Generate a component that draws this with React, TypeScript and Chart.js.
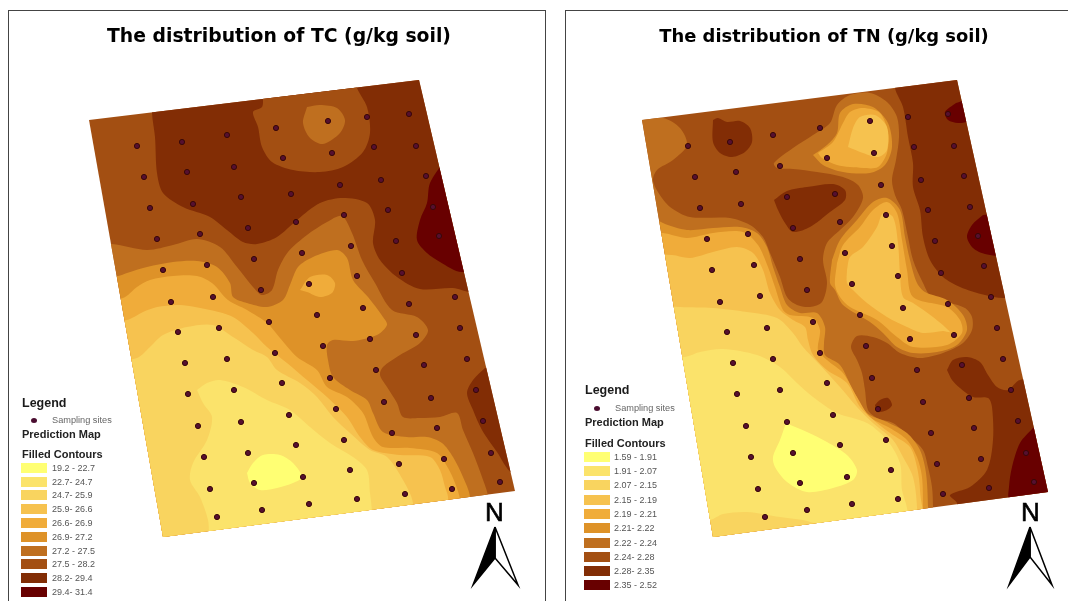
import React, { useEffect, useRef } from "react";
import { Chart, registerables } from "chart.js";

Chart.register(...registerables);

type Pts = number[][];
type Band = [number, Pts];

const FONT = '"Liberation Sans", Arial, sans-serif';
const classColors = ["#FFFF73", "#FBE36B", "#F9D45F", "#F6C24F", "#F0AC3A", "#DE9228", "#BF6F1F", "#A34F12", "#822D05", "#680000"];

const tcLabels = ["19.2 - 22.7", "22.7- 24.7", "24.7- 25.9", "25.9- 26.6", "26.6- 26.9", "26.9- 27.2", "27.2 - 27.5", "27.5 - 28.2", "28.2- 29.4", "29.4- 31.4"];
const tnLabels = ["1.59 - 1.91", "1.91 - 2.07", "2.07 - 2.15", "2.15 - 2.19", "2.19 - 2.21", "2.21- 2.22", "2.22 - 2.24", "2.24- 2.28", "2.28- 2.35", "2.35 - 2.52"];

const tcOutline: Pts = [[89, 120], [419, 80], [515, 491], [163, 537]];
const tnOutline: Pts = [[642, 120], [957, 80], [1048, 492], [713, 537]];

const tcSites: Pts = [[137,146],[182,142],[227,135],[276,128],[328,121],[367,117],[409,114],[144,177],[187,172],[234,167],[283,158],[332,153],[374,147],[416,146],[150,208],[193,204],[241,197],[291,194],[340,185],[381,180],[426,176],[157,239],[200,234],[248,228],[296,222],[344,215],[388,210],[433,207],[163,270],[207,265],[254,259],[302,253],[351,246],[396,241],[439,236],[171,302],[213,297],[261,290],[309,284],[357,276],[402,273],[363,308],[409,304],[455,297],[317,315],[269,322],[219,328],[178,332],[460,328],[416,335],[370,339],[323,346],[275,353],[227,359],[185,363],[467,359],[424,365],[376,370],[330,378],[282,383],[234,390],[188,394],[476,390],[431,398],[384,402],[336,409],[289,415],[241,422],[198,426],[483,421],[437,428],[392,433],[344,440],[296,445],[248,453],[204,457],[491,453],[444,459],[399,464],[350,470],[303,477],[254,483],[210,489],[500,482],[452,489],[405,494],[357,499],[309,504],[262,510],[217,517]];

const tnSites: Pts = [[688,146],[730,142],[773,135],[820,128],[870,121],[908,117],[948,114],[695,177],[736,172],[780,166],[827,158],[874,153],[914,147],[954,146],[700,208],[741,204],[787,197],[835,194],[881,185],[921,180],[964,176],[707,239],[748,234],[793,228],[840,222],[886,215],[928,210],[970,207],[712,270],[754,265],[800,259],[845,253],[892,246],[935,241],[978,236],[720,302],[760,296],[807,290],[852,284],[898,276],[941,273],[984,266],[903,308],[948,304],[991,297],[860,315],[813,322],[767,328],[727,332],[997,328],[954,335],[910,339],[866,346],[820,353],[773,359],[733,363],[1003,359],[962,365],[917,370],[872,378],[827,383],[780,390],[737,394],[1011,390],[969,398],[923,402],[878,409],[833,415],[787,422],[746,426],[1018,421],[974,428],[931,433],[886,440],[840,445],[793,453],[751,457],[1026,453],[981,459],[937,464],[891,470],[847,477],[800,483],[758,489],[1034,482],[989,488],[943,494],[898,499],[852,504],[807,510],[765,517]];

const tcBands: Band[] = [
  [7, [[60, 60], [540, 60], [540, 560], [60, 560]]],
  [8, [[152, 60], [152, 113], [155, 137], [157, 173], [163, 193], [183, 207], [210, 217], [227, 230], [243, 242], [257, 244], [277, 237], [297, 220], [320, 203], [343, 198], [367, 203], [375, 220], [373, 243], [380, 260], [397, 277], [420, 289], [453, 288], [470, 292], [530, 292], [530, 60]]],
  [9, [[445, 160], [430, 183], [427, 203], [420, 220], [417, 240], [427, 253], [440, 262], [462, 272], [500, 260], [490, 160]]],
  [7, [[263, 75], [263, 98], [262, 107], [253, 112], [258, 127], [262, 147], [272, 162], [293, 170], [320, 172], [343, 167], [363, 152], [370, 133], [367, 107], [357, 88], [355, 75]]],
  [6, [[307, 107], [303, 123], [310, 138], [323, 144], [340, 133], [345, 120], [337, 108], [320, 105]]],
  [8, [[485, 368], [473, 380], [467, 393], [473, 410], [482, 430], [497, 452], [512, 473], [540, 480], [530, 360]]],
  [6, [[80, 244], [112, 244], [147, 250], [173, 245], [197, 239], [220, 247], [237, 267], [253, 287], [262, 295], [272, 290], [278, 270], [288, 252], [307, 235], [327, 222], [342, 216], [352, 233], [362, 260], [375, 283], [392, 310], [417, 317], [428, 330], [420, 343], [400, 355], [383, 367], [380, 375], [387, 387], [397, 403], [403, 417], [420, 418], [440, 417], [457, 413], [463, 430], [473, 453], [482, 477], [488, 497], [488, 560], [90, 560]]],
  [5, [[90, 276], [118, 276], [127, 273], [147, 267], [173, 262], [197, 261], [217, 267], [230, 283], [233, 297], [247, 303], [267, 307], [283, 300], [290, 285], [298, 267], [313, 257], [337, 250], [347, 258], [353, 280], [368, 297], [383, 317], [387, 325], [377, 335], [353, 341], [333, 340], [327, 345], [328, 360], [333, 377], [350, 390], [367, 400], [373, 413], [383, 432], [407, 437], [427, 437], [442, 443], [453, 457], [463, 477], [470, 497], [470, 560], [90, 560]]],
  [4, [[100, 298], [123, 298], [137, 287], [150, 280], [173, 276], [197, 276], [212, 283], [228, 300], [247, 310], [267, 323], [280, 338], [297, 357], [317, 370], [327, 387], [347, 397], [363, 413], [373, 437], [383, 447], [410, 448], [437, 453], [448, 468], [455, 483], [460, 500], [460, 560], [100, 560]]],
  [4, [[300, 290], [310, 277], [327, 275], [335, 283], [332, 293], [320, 297], [307, 292]]],
  [3, [[105, 320], [127, 320], [143, 312], [157, 307], [180, 305], [210, 310], [233, 317], [253, 333], [267, 347], [287, 363], [307, 380], [327, 397], [347, 417], [360, 437], [373, 450], [400, 455], [430, 457], [440, 470], [445, 487], [448, 497], [448, 560], [105, 560]]],
  [2, [[115, 360], [137, 358], [150, 347], [163, 335], [187, 327], [213, 325], [233, 337], [253, 350], [267, 357], [277, 370], [300, 383], [317, 397], [333, 417], [350, 433], [370, 450], [387, 457], [403, 480], [413, 503], [413, 560], [115, 560]]],
  [1, [[197, 390], [207, 383], [220, 380], [243, 387], [267, 400], [290, 410], [310, 427], [330, 443], [353, 457], [367, 470], [370, 493], [372, 513], [372, 560], [215, 560], [208, 520], [200, 497], [190, 480], [193, 463], [207, 440], [212, 417], [203, 403]]],
  [0, [[247, 473], [253, 463], [263, 455], [280, 455], [293, 463], [302, 477], [293, 483], [277, 488], [260, 490], [250, 483]]],
];

const tnBands: Band[] = [
  [7, [[620, 60], [1070, 60], [1070, 560], [620, 560]]],
  [8, [[895, 60], [895, 88], [903, 107], [908, 137], [913, 163], [913, 187], [920, 210], [923, 237], [930, 260], [943, 277], [960, 287], [985, 295], [1005, 298], [1040, 290], [1000, 60]]],
  [9, [[956, 103], [945, 112], [948, 120], [958, 123], [967, 122], [978, 120], [975, 98]]],
  [9, [[983, 215], [972, 225], [967, 237], [973, 248], [985, 254], [1000, 254], [1000, 215]]],
  [8, [[947, 370], [953, 360], [967, 357], [980, 362], [988, 375], [997, 387], [1008, 390], [1020, 380], [1060, 380], [1060, 520], [957, 520], [957, 503], [950, 495], [970, 487], [987, 470], [993, 440], [992, 407], [988, 398], [973, 397], [960, 388], [952, 380]]],
  [9, [[1033, 428], [1020, 443], [1012, 467], [1009, 487], [1010, 500], [1060, 505], [1060, 420]]],
  [8, [[713, 120], [718, 118], [727, 122], [740, 121], [750, 128], [752, 142], [745, 152], [732, 157], [720, 153], [713, 142]]],
  [8, [[774, 200], [787, 191], [807, 187], [833, 184], [845, 190], [845, 200], [830, 212], [810, 227], [793, 232], [785, 223], [778, 210]]],
  [8, [[875, 405], [880, 400], [888, 398], [892, 405], [887, 410], [877, 412]]],
  [6, [[630, 118], [663, 118], [680, 128], [687, 145], [673, 160], [657, 170], [653, 180], [658, 192], [670, 207], [690, 217], [730, 218], [750, 225], [763, 237], [770, 253], [780, 277], [787, 297], [797, 305], [810, 307], [822, 302], [827, 283], [823, 260], [827, 243], [840, 230], [853, 217], [863, 198], [858, 185], [843, 177], [817, 172], [793, 169], [777, 168], [774, 163], [793, 148], [813, 135], [830, 123], [837, 105], [850, 95], [870, 93], [887, 102], [897, 117], [899, 137], [896, 160], [892, 180], [895, 195], [902, 210], [908, 237], [913, 260], [923, 283], [932, 298], [950, 303], [965, 308], [972, 317], [972, 330], [963, 343], [943, 353], [920, 358], [900, 353], [887, 343], [873, 337], [857, 336], [851, 347], [857, 360], [862, 373], [865, 390], [868, 410], [877, 418], [893, 423], [910, 437], [923, 450], [928, 467], [932, 487], [933, 507], [933, 560], [630, 560]]],
  [5, [[630, 205], [663, 223], [687, 230], [713, 228], [740, 227], [757, 233], [767, 247], [773, 267], [780, 287], [787, 305], [800, 313], [817, 313], [825, 327], [824, 343], [825, 355], [840, 365], [853, 390], [867, 413], [887, 422], [907, 433], [920, 450], [926, 473], [928, 507], [928, 560], [630, 560]]],
  [4, [[635, 233], [663, 233], [687, 238], [713, 233], [743, 232], [758, 245], [768, 267], [775, 287], [783, 310], [790, 315], [813, 318], [820, 330], [818, 350], [827, 360], [843, 373], [857, 397], [870, 417], [890, 428], [907, 440], [917, 457], [922, 477], [923, 507], [923, 560], [635, 560]]],
  [3, [[640, 255], [672, 255], [690, 258], [713, 252], [737, 247], [753, 253], [763, 270], [770, 293], [780, 310], [793, 320], [805, 327], [808, 340], [813, 355], [827, 370], [847, 383], [860, 407], [877, 423], [893, 435], [910, 447], [917, 467], [920, 490], [920, 560], [640, 560]]],
  [2, [[640, 305], [680, 307], [713, 308], [747, 312], [777, 318], [793, 333], [803, 347], [820, 365], [840, 387], [857, 407], [873, 423], [893, 440], [903, 457], [913, 477], [917, 507], [917, 560], [640, 560]]],
  [1, [[640, 360], [685, 357], [700, 352], [723, 349], [757, 355], [780, 367], [797, 383], [813, 397], [837, 413], [867, 423], [887, 440], [900, 463], [902, 490], [907, 508], [907, 525], [823, 525], [803, 520], [780, 517], [747, 512], [723, 514], [710, 520], [640, 525]]],
  [0, [[786, 423], [807, 432], [827, 442], [847, 455], [857, 470], [853, 480], [833, 488], [807, 492], [787, 482], [775, 467], [773, 457], [780, 440]]],
  [5, [[813, 155], [827, 145], [837, 133], [840, 113], [853, 104], [873, 107], [888, 123], [892, 147], [885, 165], [870, 173], [843, 172], [823, 165]]],
  [4, [[818, 153], [833, 142], [843, 123], [850, 112], [863, 108], [880, 113], [888, 133], [887, 153], [878, 167], [863, 168], [837, 165], [822, 158]]],
  [3, [[848, 147], [853, 128], [860, 117], [875, 115], [887, 127], [887, 150], [878, 157], [863, 153]]],
  [5, [[832, 260], [840, 240], [857, 220], [873, 202], [887, 198], [900, 210], [905, 237], [910, 260], [917, 283], [925, 292], [947, 300], [963, 315], [967, 330], [957, 345], [937, 352], [913, 353], [897, 347], [883, 333], [870, 322], [843, 305], [835, 290], [830, 283]]],
  [4, [[837, 263], [843, 245], [860, 227], [873, 210], [887, 202], [897, 213], [902, 240], [907, 270], [913, 297], [947, 307], [960, 320], [962, 333], [947, 345], [913, 347], [897, 337], [877, 320], [850, 307], [840, 297], [835, 285]]],
  [3, [[847, 270], [850, 257], [863, 247], [877, 227], [883, 213], [893, 217], [898, 243], [900, 273], [903, 297], [913, 303], [933, 317], [950, 332], [943, 331], [923, 333], [907, 327], [887, 317], [867, 303], [853, 290], [847, 283]]],
];

const tcArrow = { apex: [495, 527], left: [473, 585], notch: [495, 558], right: [518, 585] };
const tnArrow = { apex: [1030, 527], left: [1009, 585], notch: [1030, 557], right: [1052, 585] };

function MapChart(props: { title: string; titleSize: number; left: number; width: number; outline: Pts; bands: Band[]; sites: Pts }) {
  const ref = useRef<HTMLCanvasElement>(null);
  useEffect(() => {
    const toXY = (p: number[]) => ({ x: p[0], y: p[1] });
    const loop = (pts: Pts) => [...pts, pts[0]].map(toXY);
    const contourSets = props.bands.map(([level, pts]) => ({
      data: loop(pts),
      showLine: true,
      fill: "shape",
      tension: 0.3,
      borderWidth: 0,
      pointRadius: 0,
      backgroundColor: classColors[level],
      borderColor: classColors[level],
    }));
    const siteSet = {
      data: props.sites.map(toXY),
      showLine: false,
      pointRadius: 2.6,
      pointBorderWidth: 1,
      backgroundColor: "#551030",
      borderColor: "#3a0808",
    };
    const clipPlugin = {
      id: "mapClip",
      beforeDatasetsDraw(chart: any) {
        const { ctx, scales } = chart;
        const X = (v: number) => scales.x.getPixelForValue(v);
        const Y = (v: number) => scales.y.getPixelForValue(v);
        ctx.save();
        ctx.beginPath();
        props.outline.forEach((p, i) => (i ? ctx.lineTo(X(p[0]), Y(p[1])) : ctx.moveTo(X(p[0]), Y(p[1]))));
        ctx.closePath();
        ctx.clip();
      },
      afterDatasetsDraw(chart: any) {
        chart.ctx.restore();
      },
    };
    const topPad = 26 - props.titleSize / 2;
    const chart = new Chart(ref.current!, {
      type: "scatter",
      data: { datasets: [siteSet, ...contourSets.slice().reverse()] as any },
      options: {
        responsive: false,
        animation: false,
        devicePixelRatio: 1,
        layout: { padding: 0, autoPadding: false },
        plugins: {
          legend: { display: false },
          tooltip: { enabled: false },
          title: {
            display: true,
            text: props.title,
            color: "#000",
            font: { family: '"DejaVu Sans"', size: props.titleSize, weight: "bold", lineHeight: 1 },
            padding: { top: topPad, bottom: 60 - topPad - props.titleSize },
          },
        },
        scales: {
          x: { type: "linear", display: false, min: props.left, max: props.left + props.width },
          y: { type: "linear", display: false, min: 71, max: 601, reverse: true },
        },
      } as any,
      plugins: [clipPlugin as any],
    });
    return () => chart.destroy();
  }, []);
  return <canvas ref={ref} width={props.width} height={590} style={{ position: "absolute", left: props.left, top: 11, width: props.width, height: 590 }} />;
}

function NorthArrow(props: { arrow: any }) {
  const ref = useRef<HTMLCanvasElement>(null);
  const { apex, left, notch, right } = props.arrow;
  const x0 = left[0] - 5;
  const y0 = apex[1] - 5;
  const w = right[0] - left[0] + 10;
  const h = right[1] - apex[1] + 10;
  useEffect(() => {
    const loop = (pts: Pts) => [...pts, pts[0]].map((p) => ({ x: p[0], y: p[1] }));
    const chart = new Chart(ref.current!, {
      type: "scatter",
      data: {
        datasets: [
          { data: loop([apex, left, notch]), showLine: true, fill: "shape", tension: 0, borderWidth: 1.5, pointRadius: 0, backgroundColor: "#000", borderColor: "#000" },
          { data: loop([apex, notch, right]), showLine: true, fill: "shape", tension: 0, borderWidth: 1.5, pointRadius: 0, backgroundColor: "#fff", borderColor: "#000" },
        ] as any,
      },
      options: {
        responsive: false,
        animation: false,
        devicePixelRatio: 1,
        layout: { padding: 0, autoPadding: false },
        plugins: { legend: { display: false }, tooltip: { enabled: false } },
        scales: {
          x: { type: "linear", display: false, min: x0, max: x0 + w },
          y: { type: "linear", display: false, min: y0, max: y0 + h, reverse: true },
        },
      } as any,
    });
    return () => chart.destroy();
  }, []);
  return <canvas ref={ref} width={w} height={h} style={{ position: "absolute", left: x0, top: y0, width: w, height: h }} />;
}

function Legend(props: { x: number; labelX: number; legendY: number; markerX: number; markerY: number; siteX: number; predY: number; filledY: number; rows: number[]; labels: string[] }) {
  const text = (s: string, x: number, y: number, size: number, bold: boolean, color: string) => (
    <div key={s + y} style={{ position: "absolute", left: x, top: y - 10, height: 20, lineHeight: "20px", fontFamily: FONT, fontSize: size, fontWeight: bold ? 700 : 400, color, whiteSpace: "nowrap" }}>{s}</div>
  );
  return (
    <>
      {text("Legend", props.x, props.legendY, 12.5, true, "#1a1a1a")}
      <div style={{ position: "absolute", left: props.markerX - 3, top: props.markerY - 2.5, width: 6, height: 5, borderRadius: "50%", background: "#4a0d30" }} />
      {text("Sampling sites", props.siteX, props.markerY, 9.2, false, "#666")}
      {text("Prediction Map", props.x, props.predY, 11, true, "#222")}
      {text("Filled Contours", props.x, props.filledY, 11, true, "#222")}
      {props.labels.map((lab, i) => (
        <React.Fragment key={lab}>
          <div style={{ position: "absolute", left: props.x - 1, top: props.rows[i] - 5, width: 26, height: 10, background: classColors[i] }} />
          {text(lab, props.labelX, props.rows[i], 9, false, "#555")}
        </React.Fragment>
      ))}
    </>
  );
}

const tcRows = [468, 482, 495, 509, 523, 537, 551, 564, 578, 592];
const tnRows = [457, 471, 485, 500, 514, 528, 543, 557, 571, 585];

const northStyle = { position: "absolute", top: 497, fontFamily: FONT, fontSize: 26, lineHeight: "30px", color: "#000", WebkitTextStroke: "0.6px #000" } as const;

export default function App() {
  return (
    <div style={{ position: "fixed", left: 0, top: 0, width: 1068, height: 601, overflow: "hidden", background: "#fff" }}>
      <div style={{ position: "absolute", left: 8, top: 10, width: 538, height: 640, border: "1.5px solid #444", boxSizing: "border-box" }} />
      <div style={{ position: "absolute", left: 565, top: 10, width: 600, height: 640, border: "1.5px solid #444", boxSizing: "border-box" }} />
      <MapChart title="The distribution of TC (g/kg soil)" titleSize={18.8} left={10} width={538} outline={tcOutline} bands={tcBands} sites={tcSites} />
      <MapChart title="The distribution of TN (g/kg soil)" titleSize={17.9} left={566} width={516} outline={tnOutline} bands={tnBands} sites={tnSites} />
      <Legend x={22} labelX={52} legendY={403} markerX={34} markerY={420} siteX={52} predY={434} filledY={454} rows={tcRows} labels={tcLabels} />
      <Legend x={585} labelX={614} legendY={390} markerX={597} markerY={408} siteX={615} predY={422} filledY={443} rows={tnRows} labels={tnLabels} />
      <NorthArrow arrow={tcArrow} />
      <NorthArrow arrow={tnArrow} />
      <div style={{ ...northStyle, left: 485 }}>N</div>
      <div style={{ ...northStyle, left: 1021 }}>N</div>
    </div>
  );
}
